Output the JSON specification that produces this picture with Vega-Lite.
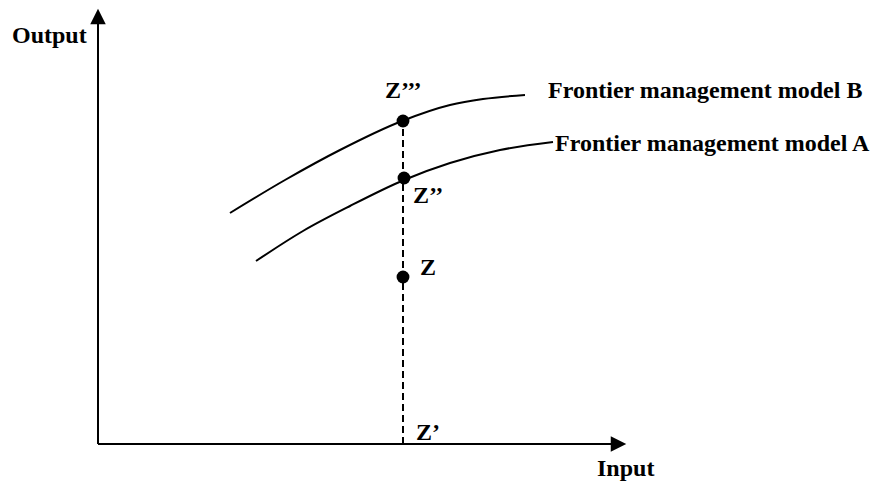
{
  "$schema": "https://vega.github.io/schema/vega-lite/v6.json",
  "width": 878,
  "height": 489,
  "padding": 0,
  "autosize": {"type": "none"},
  "background": "white",
  "config": {"view": {"stroke": null}},
  "datasets": {
    "axes": [
      {"x": 0, "y": 0, "x2": 0, "y2": 428},
      {"x": 0, "y": 0, "x2": 518, "y2": 0}
    ],
    "dashed": [
      {"x": 305, "y": 0, "x2": 305, "y2": 324}
    ],
    "arrows": [
      {"x": 0, "y": 427.5, "dir": "up"},
      {"x": 520.5, "y": 0, "dir": "right"}
    ],
    "curves": [
      {"model": "B", "x": 132, "y": 231},
      {"model": "B", "x": 187, "y": 264},
      {"model": "B", "x": 242, "y": 294},
      {"model": "B", "x": 304, "y": 323},
      {"model": "B", "x": 352, "y": 339},
      {"model": "B", "x": 385, "y": 345},
      {"model": "B", "x": 427, "y": 349},
      {"model": "A", "x": 158, "y": 183},
      {"model": "A", "x": 205, "y": 213},
      {"model": "A", "x": 252, "y": 238},
      {"model": "A", "x": 306, "y": 264},
      {"model": "A", "x": 352, "y": 281},
      {"model": "A", "x": 402, "y": 294},
      {"model": "A", "x": 455, "y": 302}
    ],
    "points": [
      {"name": "Z'''", "x": 305, "y": 323},
      {"name": "Z''", "x": 306, "y": 266},
      {"name": "Z", "x": 305, "y": 167}
    ],
    "labels": [
      {"label": "Output", "x": -86, "y": 401},
      {"label": "Input", "x": 499, "y": -32},
      {"label": "Z’’’", "x": 287, "y": 346},
      {"label": "Z’’", "x": 315, "y": 241},
      {"label": "Z", "x": 322, "y": 169},
      {"label": "Z’", "x": 318, "y": 4},
      {"label": "Frontier management model B", "x": 450, "y": 346},
      {"label": "Frontier management model A", "x": 457, "y": 293}
    ]
  },
  "layer": [
    {
      "data": {"name": "axes"},
      "mark": {"type": "rule", "color": "black", "strokeWidth": 2},
      "encoding": {
        "x": {"field": "x", "type": "quantitative", "scale": {"domain": [-98, 780], "nice": false, "zero": false}, "axis": null},
        "y": {"field": "y", "type": "quantitative", "scale": {"domain": [-45, 444], "nice": false, "zero": false}, "axis": null},
        "x2": {"field": "x2"},
        "y2": {"field": "y2"}
      }
    },
    {
      "data": {"name": "dashed"},
      "mark": {"type": "rule", "color": "black", "strokeWidth": 2, "strokeDash": [7, 4]},
      "encoding": {
        "x": {"field": "x", "type": "quantitative", "scale": {"domain": [-98, 780], "nice": false, "zero": false}, "axis": null},
        "y": {"field": "y", "type": "quantitative", "scale": {"domain": [-45, 444], "nice": false, "zero": false}, "axis": null},
        "x2": {"field": "x2"},
        "y2": {"field": "y2"}
      }
    },
    {
      "data": {"name": "arrows"},
      "mark": {"type": "point", "filled": true, "color": "black", "opacity": 1, "strokeWidth": 0},
      "encoding": {
        "x": {"field": "x", "type": "quantitative", "scale": {"domain": [-98, 780], "nice": false, "zero": false}, "axis": null},
        "y": {"field": "y", "type": "quantitative", "scale": {"domain": [-45, 444], "nice": false, "zero": false}, "axis": null},
        "shape": {
          "field": "dir",
          "type": "nominal",
          "scale": {"domain": ["up", "right"], "range": ["M-1,1L1,1L0,-1Z", "M-1,-1L1,0L-1,1Z"]},
          "legend": null
        },
        "size": {"value": 240}
      }
    },
    {
      "data": {"name": "curves"},
      "mark": {"type": "line", "color": "black", "strokeWidth": 2, "interpolate": "monotone"},
      "encoding": {
        "x": {"field": "x", "type": "quantitative", "scale": {"domain": [-98, 780], "nice": false, "zero": false}, "axis": null},
        "y": {"field": "y", "type": "quantitative", "scale": {"domain": [-45, 444], "nice": false, "zero": false}, "axis": null},
        "detail": {"field": "model", "type": "nominal"}
      }
    },
    {
      "data": {"name": "points"},
      "mark": {"type": "circle", "color": "black", "opacity": 1, "size": 165},
      "encoding": {
        "x": {"field": "x", "type": "quantitative", "scale": {"domain": [-98, 780], "nice": false, "zero": false}, "axis": null},
        "y": {"field": "y", "type": "quantitative", "scale": {"domain": [-45, 444], "nice": false, "zero": false}, "axis": null}
      }
    },
    {
      "data": {"name": "labels"},
      "mark": {"type": "text", "align": "left", "baseline": "alphabetic", "font": "Liberation Serif", "fontWeight": "bold", "fontSize": 24, "color": "black"},
      "encoding": {
        "x": {"field": "x", "type": "quantitative", "scale": {"domain": [-98, 780], "nice": false, "zero": false}, "axis": null},
        "y": {"field": "y", "type": "quantitative", "scale": {"domain": [-45, 444], "nice": false, "zero": false}, "axis": null},
        "text": {"field": "label", "type": "nominal"}
      }
    }
  ]
}
